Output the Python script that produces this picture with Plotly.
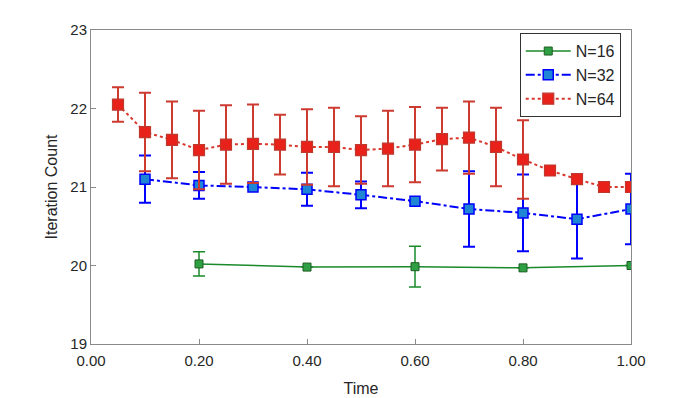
import plotly.graph_objects as go

# N=16
x16 = [0.2, 0.4, 0.6, 0.8, 1.0]
y16 = [20.02, 19.98, 19.985, 19.97, 20.0]
e16 = [0.155, 0.0, 0.26, 0.0, 0.0]

# N=32
x32 = [0.1, 0.2, 0.3, 0.4, 0.5, 0.6, 0.7, 0.8, 0.9, 1.0]
y32 = [21.10, 21.02, 21.0, 20.97, 20.90, 20.82, 20.72, 20.67, 20.59, 20.72]
e32 = [0.30, 0.17, 0.0, 0.21, 0.17, 0.0, 0.48, 0.49, 0.50, 0.45]

# N=64
x64 = [0.05, 0.10, 0.15, 0.20, 0.25, 0.30, 0.35, 0.40, 0.45, 0.50,
       0.55, 0.60, 0.65, 0.70, 0.75, 0.80, 0.85, 0.90, 0.95, 1.00]
y64 = [22.05, 21.70, 21.60, 21.47, 21.54, 21.55, 21.54, 21.51, 21.51, 21.47,
       21.49, 21.54, 21.61, 21.63, 21.51, 21.35, 21.21, 21.10, 21.00, 21.00]
e64 = [0.22, 0.50, 0.49, 0.50, 0.50, 0.50, 0.38, 0.48, 0.50, 0.43,
       0.48, 0.48, 0.40, 0.46, 0.50, 0.50, 0.0, 0.0, 0.0, 0.0]

x_ticks = [0.0, 0.2, 0.4, 0.6, 0.8, 1.0]
x_ticklabels = ["0.00", "0.20", "0.40", "0.60", "0.80", "1.00"]
y_ticks = [19, 20, 21, 22, 23]

fig = go.Figure()

fig.add_trace(go.Scatter(
    x=x16, y=y16, name="N=16", mode="lines+markers",
    line=dict(color="#1a8a2a", width=1.5, dash="solid"),
    marker=dict(symbol="square", size=8, color="#2ea043",
                line=dict(color="#1d5e22", width=1)),
    error_y=dict(type="data", array=e16, visible=True, color="#1a8a2a",
                 thickness=1.5, width=6),
))

fig.add_trace(go.Scatter(
    x=x32, y=y32, name="N=32", mode="lines+markers",
    line=dict(color="#0000ff", width=2, dash="dashdot"),
    marker=dict(symbol="square", size=10, color="#1f86d4",
                line=dict(color="#0000ff", width=1.5)),
    error_y=dict(type="data", array=e32, visible=True, color="#0000ff",
                 thickness=2, width=6),
))

fig.add_trace(go.Scatter(
    x=x64, y=y64, name="N=64", mode="lines+markers",
    line=dict(color="#d9362c", width=2, dash="dot"),
    marker=dict(symbol="square", size=11, color="#e8211a",
                line=dict(color="#c0392f", width=1.2)),
    error_y=dict(type="data", array=e64, visible=True, color="#cc3a30",
                 thickness=2, width=6),
))

axis_common = dict(
    showgrid=False, zeroline=False, showline=True, linecolor="#8a8a8a",
    linewidth=1, mirror=True, ticks="inside", ticklen=5, tickcolor="#8a8a8a",
    tickfont=dict(family="Liberation Sans", size=15, color="#262626"),
)

fig.update_layout(
    width=698, height=398,
    margin=dict(l=83, r=75, t=22, b=62),
    plot_bgcolor="white", paper_bgcolor="white",
    font=dict(family="Liberation Sans", size=15, color="#262626"),
    xaxis=dict(range=[0, 1], tickvals=x_ticks, ticktext=x_ticklabels,
               ticklabelstandoff=3,
               title=dict(text="Time", font=dict(size=16), standoff=14),
               **axis_common),
    yaxis=dict(range=[19, 23], tickvals=y_ticks,
               title=dict(text="Iteration Count", font=dict(size=16), standoff=8),
               **axis_common),
    legend=dict(x=0.981, y=0.99, xanchor="right", yanchor="top",
                bgcolor="white", bordercolor="#333333", borderwidth=1,
                font=dict(size=16), tracegroupgap=0, itemwidth=45),
    showlegend=True,
)

fig.write_html("out.html")
